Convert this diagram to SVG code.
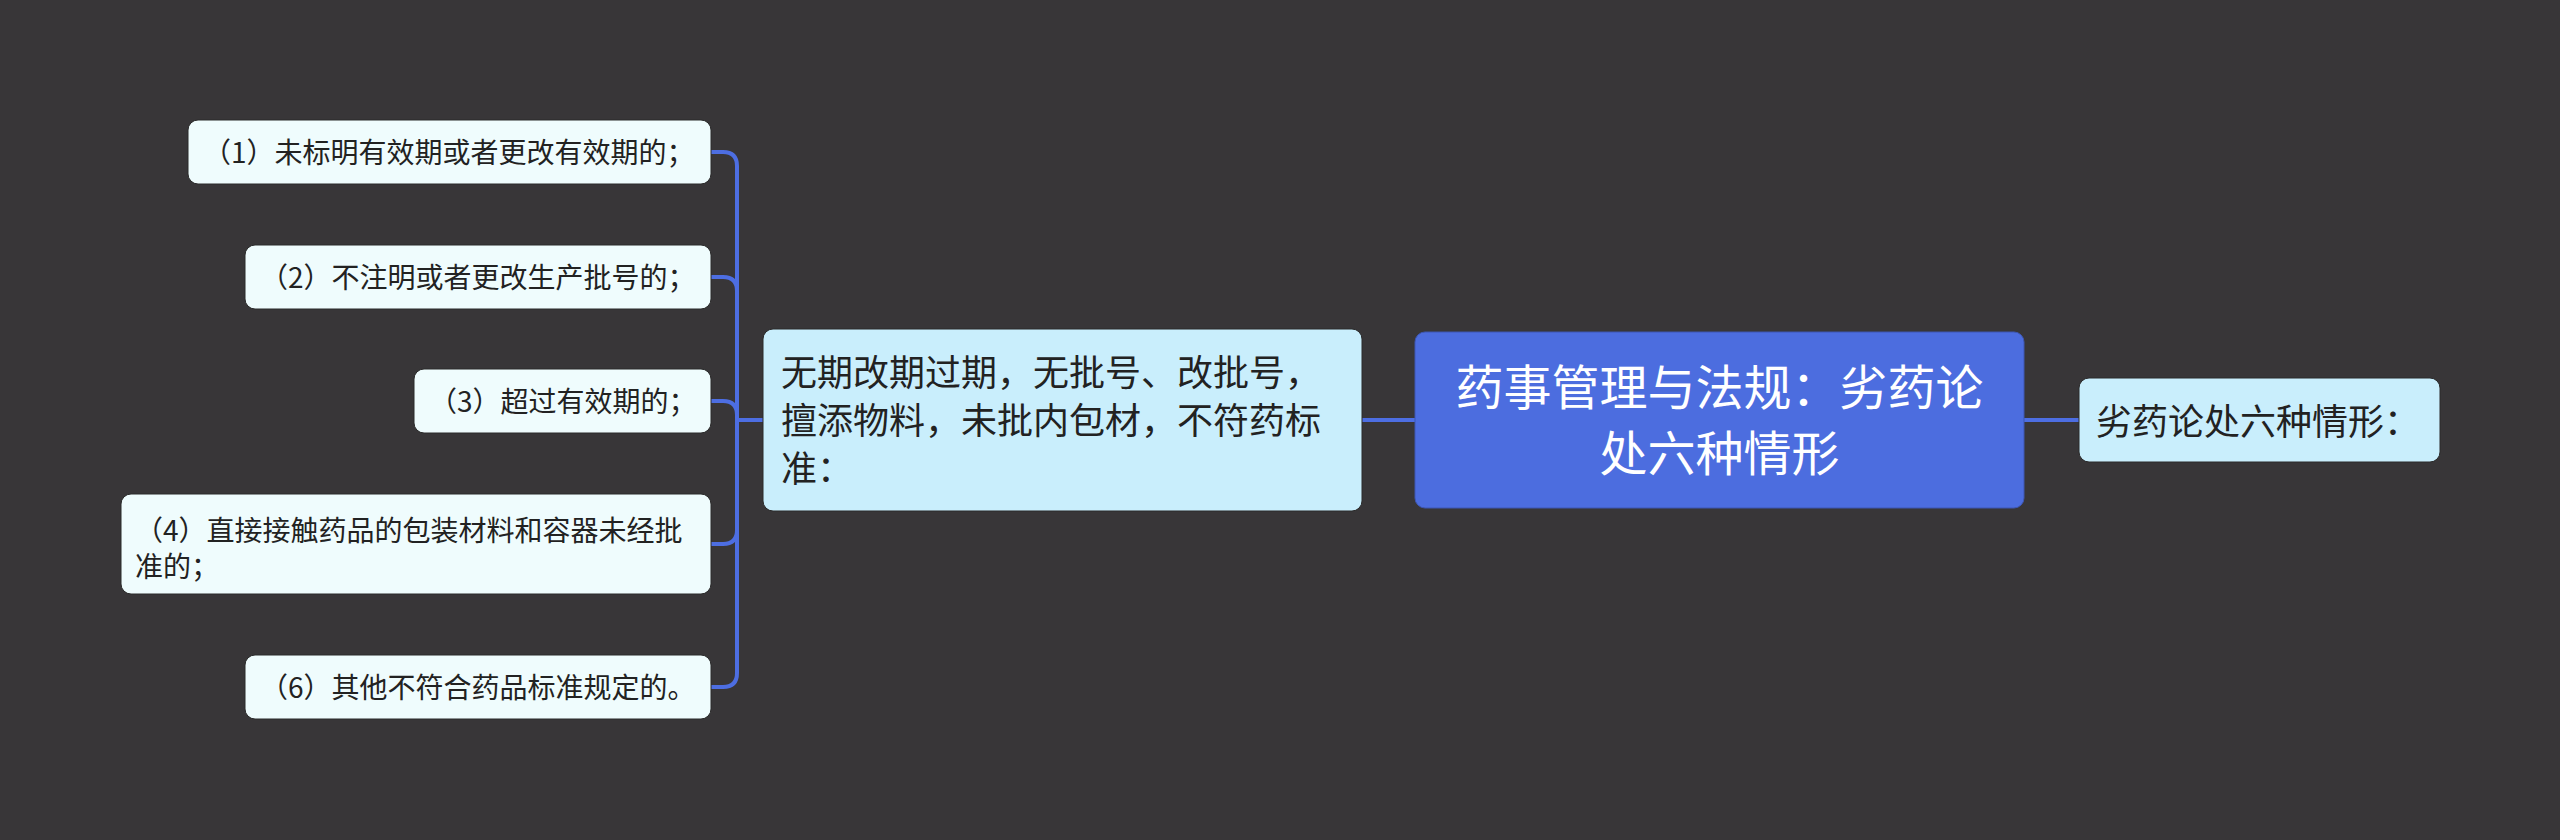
<svg xmlns="http://www.w3.org/2000/svg" width="2560" height="840" viewBox="0 0 2560 840">
<style>
.bg{fill:#383638}
.line{fill:none;stroke:#4d6ee2;stroke-width:4;stroke-linecap:round}
.root rect{fill:#4c6ddf;stroke:#3d57b3;stroke-width:1}
.l1 rect{fill:#c9eefc;stroke:#2b2b2b;stroke-width:1}
.l2 rect{fill:#effcfd;stroke:#2b2b2b;stroke-width:1}
text{font-family:"Noto Sans CJK SC","Noto Sans",sans-serif;fill:#222222}
.root text{fill:#ffffff;font-size:48px}
.l1 text{font-size:36px}
.l2 text{font-size:28px}
</style>
<rect class="bg" x="0" y="0" width="2560" height="840"/>
<g id="connectors">
<path class="line" d="M1362 420 H1415"/>
<path class="line" d="M2024 420 H2079"/>
<path class="line" d="M763 420 H737"/>
<path class="line" d="M737 420 V166 Q737 152 723 152 H711"/>
<path class="line" d="M737 420 V291 Q737 277 723 277 H711"/>
<path class="line" d="M737 420 V415 Q737 401 723 401 H711"/>
<path class="line" d="M737 420 V530 Q737 544 723 544 H711"/>
<path class="line" d="M737 420 V673 Q737 687 723 687 H711"/>
</g>
<g id="root" class="root">
<rect x="1415" y="332" width="609" height="176" rx="10"/>
<text x="1719.5" y="405" text-anchor="middle">药事管理与法规：劣药论</text>
<text x="1719.5" y="471" text-anchor="middle">处六种情形</text>
</g>
<g id="right" class="l1">
<rect x="2079" y="378" width="361" height="84" rx="10"/>
<text x="2096" y="435">劣药论处六种情形：</text>
</g>
<g id="left" class="l1">
<rect x="763" y="329" width="599" height="182" rx="10"/>
<text x="781" y="386">无期改期过期，无批号、改批号，</text>
<text x="781" y="434">擅添物料，未批内包材，不符药标</text>
<text x="781" y="482">准：</text>
</g>
<g id="c1" class="l2">
<rect x="188" y="120" width="523" height="64" rx="10"/>
<text x="203" y="163">（1）未标明有效期或者更改有效期的；</text>
</g>
<g id="c2" class="l2">
<rect x="245" y="245" width="466" height="64" rx="10"/>
<text x="260" y="288">（2）不注明或者更改生产批号的；</text>
</g>
<g id="c3" class="l2">
<rect x="414" y="369" width="297" height="64" rx="10"/>
<text x="429" y="412">（3）超过有效期的；</text>
</g>
<g id="c4" class="l2">
<rect x="121" y="494" width="590" height="100" rx="10"/>
<text x="135" y="541">（4）直接接触药品的包装材料和容器未经批</text>
<text x="135" y="577">准的；</text>
</g>
<g id="c6" class="l2">
<rect x="245" y="655" width="466" height="64" rx="10"/>
<text x="260" y="698">（6）其他不符合药品标准规定的。</text>
</g>
</svg>
